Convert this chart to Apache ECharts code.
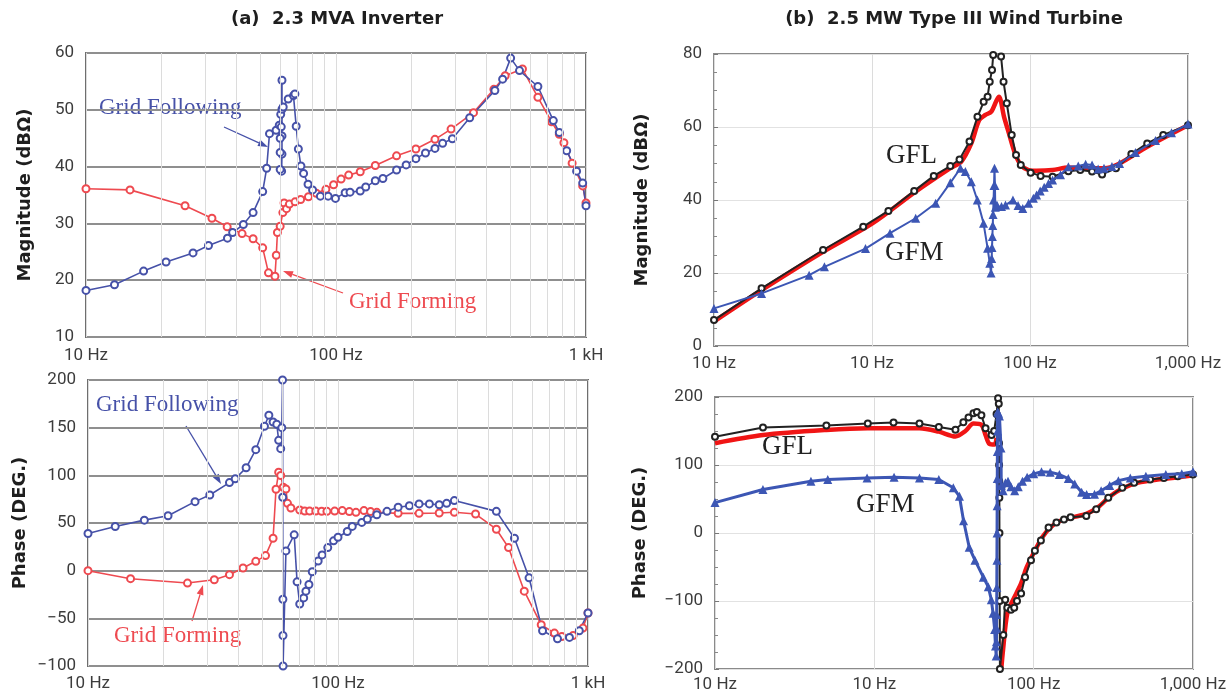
<!DOCTYPE html>
<html>
<head>
<meta charset="utf-8">
<title>Impedance scans: inverter and wind turbine</title>
<script src="https://cdn.jsdelivr.net/npm/echarts@6/dist/echarts.min.js"></script>
<style>
  html, body { margin: 0; padding: 0; background: #fff; }
  #chart { width: 1231px; height: 696px; }
</style>
</head>
<body>
<div id="chart"></div>
<script>
// ---- (a) 2.3 MVA inverter, [frequency Hz, value] ----
const invMagFollowing = [[10,18.2],[13,19.2],[17,21.6],[20.9,23.2],[26.8,24.8],[30.9,26.1],[36.8,27.4],[38.6,28.4],[42.6,29.8],[46.6,31.9],[50.9,35.6],[52.8,39.7],[54.2,45.8],[57.6,46.4],[59.3,47.3],[60.1,49.2],[60.8,55.2],[60.8,50.1],[60.8,45.4],[60.8,42.2],[60.6,39.2],[59.8,39.5],[59.8,42.5],[59.8,45],[60.4,47],[61.5,50.5],[64.4,51.9],[67.6,52.5],[68.5,52.8],[69.3,47.1],[70.7,43.1],[72.4,40.1],[74.2,38.8],[77.3,36.9],[80.6,35.9],[86.6,34.8],[93,34.8],[99.5,34.4],[108.8,35.4],[113.8,35.5],[125,35.7],[131.5,36.4],[143.6,37.5],[154,37.9],[174.7,39.4],[190.8,40.3],[208.7,41.4],[228,42.4],[248.8,43.2],[267,44.1],[292,44.9],[342.6,48.6],[432,53.4],[464,55.4],[499.6,59.1],[542,56.9],[642,54.1],[740,48.1],[782,46],[837,42.8],[917,39.2],[970,37.1],[1000,33.1]];
const invMagForming = [[10,36.1],[15,35.9],[24.9,33.1],[31.9,30.9],[36.7,29.4],[42.1,28.2],[46.6,27.3],[50.9,25.7],[53.7,21.3],[57,20.7],[57.7,24.4],[58.3,28.4],[59.8,29.5],[61.3,31.9],[62,33.6],[63.4,32.6],[65.1,33.4],[68.6,33.8],[72.2,34.2],[77.6,34.7],[83.4,35.3],[91.1,36],[97.8,36.8],[104.8,37.8],[112.4,38.5],[125,39.1],[143.6,40.2],[174.7,41.9],[208.7,43.1],[248.8,44.8],[288.6,46.6],[354.8,49.5],[428,53.6],[475,56],[557,57.2],[642,52.2],[728,47.9],[782,45.7],[816,44.2],[880,40.6],[970,36.6],[1000,33.6]];
const invPhaseFollowing = [[10,39],[12.85,46.3],[16.8,53],[20.9,57.6],[26.8,72.4],[30.7,79.4],[36.8,92.4],[38.8,96.3],[42.9,107.9],[46.9,126.9],[50.8,151.5],[52.9,163.1],[55,156],[56.9,153.6],[57.9,136.7],[59,128],[59.6,150],[60,200],[60.1,77],[60.2,-30],[60.25,-68],[60.3,-100],[61.9,20.7],[66.8,37.6],[68.6,-11.7],[70.3,-35],[72.9,-28.6],[74.4,-21.5],[76.5,-14.5],[78.9,-1.1],[83.3,10.1],[86.4,16.5],[91,24.2],[96,31.3],[100,35],[108.9,41.1],[114,46.4],[124.5,50.6],[131,54.1],[143,58.6],[157,62.2],[174,66.6],[193,68.1],[211,70],[232,70],[254,69.2],[272,70.6],[292,73.5],[430,62.2],[508,34],[581,-7.5],[658,-63],[755,-71.4],[843,-70],[923,-63],[1000,-44.4]];
const invPhaseForming = [[10,0],[14.8,-8.4],[25,-13],[32,-9.5],[36.8,-4.2],[41.7,2.8],[46.9,9.8],[51.3,15.8],[55,34],[56.5,85.4],[57.9,103.3],[59,99.8],[60.4,87.5],[61.9,85.7],[62.8,70.6],[64.8,65.7],[70.3,63.6],[73.6,62.5],[77,62.5],[81.5,62.5],[86,62.3],[90.3,62.2],[97,62.5],[104,63],[111,62],[118,61.2],[127,63],[135,62],[143,61.2],[174,60.1],[211,60.1],[254,60.5],[292,61.2],[355,59.4],[430,43.5],[481,24.2],[556,-21.5],[650,-56.7],[734,-65.5],[786,-69],[872,-68],[955,-60.2],[1000,-44.4]];

// ---- (b) 2.5 MW type III wind turbine ----
const wtMagGFL = [[1,7.1],[2,15.8],[4.9,26.3],[8.8,32.7],[12.7,37],[18.5,42.5],[24.6,46.6],[31.3,49.3],[35.8,51.1],[41.4,56],[46.5,62.8],[50.9,66.9],[53.9,68.3],[55.6,72.4],[57.5,75.6],[58.5,79.7],[60.5,88],[63.5,88],[65.6,79.3],[68,72.4],[71.3,66.5],[76.6,57.8],[81.6,52.3],[87.4,49.6],[101,47.5],[116.7,46.6],[139,46.4],[175,47.9],[208,48.2],[247,47.8],[286,47],[350,48.7],[438,52.6],[552,55.5],[697,57.8],[1000,60.5]];
const wtMagGFLsim = [[1,6.7],[2,15.3],[4.9,25.8],[10,33.5],[18.5,42],[31.3,48.7],[36.7,50.5],[42.5,55.5],[47.7,61.9],[52.2,63.3],[56.9,64.2],[63.5,68.3],[68.5,62.8],[73.5,58.3],[80.3,52.8],[87.4,49.6],[97.9,48.2],[109.8,48],[139,48.2],[175,48.9],[220,48.7],[294,48.7],[369,50],[552,54.6],[1000,60.5]];
const wtMagGFM = [[1,10.3],[2,14.4],[4,19.4],[5,21.7],[9.1,26.7],[13,30.9],[18.9,35],[25.3,39.1],[31.3,44.7],[36.3,48.7],[39,47.8],[42.5,45],[46.4,40],[50.8,33.6],[53.9,26.8],[55.6,22.7],[56.7,20],[57.2,24],[57.5,27],[57.8,30],[58.1,33],[58.4,36],[58.8,40],[59.2,44],[59.6,48.7],[60,44],[60.3,38],[62,38.5],[66,38.2],[70,38.6],[78,40],[84,38.5],[90,37.7],[98,39.1],[105,40.5],[110,41.4],[116,42.5],[123,43.5],[131,44.5],[139,45.5],[156,46.9],[175,49.1],[202,49.3],[225,49.8],[247,49.6],[270,48.5],[294,48.7],[330,49.2],[369,50],[465,53],[623,56.3],[786,58.4],[1000,60.8]];
const wtPhaseGFL = [[1,141.7],[2,155],[5,158],[9.1,161],[13.2,162.6],[19.2,161],[25.4,156],[32.3,152],[36.2,163],[39,170],[41.9,176],[44,178],[47,173],[49.9,154],[54.4,144],[56.5,150],[58.5,175],[59.8,198],[60.4,190],[60.6,132],[60.7,100],[60.8,76],[60.9,52],[61,0],[61.2,-100],[61.4,-200],[64.5,-150],[66.3,-98],[68.3,-110],[72,-113],[75.5,-110],[78.6,-100],[83.4,-89],[88.3,-65],[96.2,-40],[101.8,-26],[111,-11],[124,8],[139,15.5],[155,20],[170.5,23],[214,25],[247,35],[294,52],[360,66.5],[427,74],[538,78.6],[657,81],[803,83.5],[1000,86]];
const wtPhaseGFLsim = [[1,132],[2,144],[5,151.5],[9.1,154],[19.2,154],[25.4,149],[32.3,142],[37.3,150],[41.9,161],[47,159],[49.9,144],[52.8,131],[56.9,130],[58.5,140],[60,null],[62.6,-200],[64.3,-171],[68.3,-118],[74.2,-98.5],[83.4,-74],[90.6,-50],[101.8,-26],[113.5,-6],[127,8],[147,18],[175,23],[214,28],[254,38],[302,54],[360,65.5],[453,74],[600,78.6],[803,82],[1000,85]];
const wtPhaseGFM = [[1,44.7],[2,64],[4,76],[5.1,78.6],[9,81],[13.3,82],[19.2,81],[25.4,78.6],[31.3,66.5],[34.2,54],[36.3,18],[39.4,-21],[42.8,-40],[48.3,-65],[51.9,-79],[54.2,-98],[55.6,-118],[56.9,-142],[57.6,-166],[58.2,-181],[58.4,-160],[58.5,-140],[58.6,-120],[58.7,-80],[58.8,-40],[58.9,0],[59,40],[59.1,80],[59.2,120],[59.3,150],[59.4,178],[60.2,176],[61,172],[62.4,125],[62.6,70],[64.3,62],[66.5,74],[69,76],[72,68],[76,62],[80,68],[85,76],[91,82],[100,87],[112,90],[127,89.5],[145,86],[165,80],[181,72],[200,60],[215,56.5],[241,57],[265,62],[300,70],[340,77],[404,81],[506,83.5],[675,86],[850,87],[1000,90]];

// ---- axis labels ----
const invDecades = [10, 100, 1000];
const invDecadeLabels = ['10 Hz', '100 Hz', '1 kH'];
const wtDecades = [1, 10, 100, 1000];
const wtDecadeLabels = ['10 Hz', '10 Hz', '100 Hz', '1,000 Hz'];
const invMinorFreqs = [20, 30, 40, 50, 60, 70, 80, 90, 200, 300, 400, 500, 600, 700, 800, 900];

const BLUE_A = '#4651a8';
const RED_A = '#ee4a50';
const TICK_FONT = 'Roboto';
const NAME_FONT = '"DejaVu Sans"';

function decadeLabel(decades, labels) {
    return function (v) {
        for (let i = 0; i < decades.length; i++) {
            if (Math.abs(Math.log10(v) - Math.log10(decades[i])) < 1e-6) {
                return labels[i];
            }
        }
        return '';
    };
}

function minusLabel(v) {
    return v < 0 ? '\u2212' + Math.abs(v) : String(v);
}

function freqAxis(gridIndex, min, max, decades, labels, margin) {
    return {
        type: 'log', logBase: 10, gridIndex: gridIndex, min: min, max: max,
        axisLine: { show: false },
        axisTick: { show: false },
        axisLabel: {
            color: '#3c3c3c', fontSize: 17, fontFamily: TICK_FONT, margin: margin,
            formatter: decadeLabel(decades, labels)
        },
        splitLine: { show: true, lineStyle: { color: '#dcdcdc', width: 1 } }
    };
}

function valueAxis(gridIndex, min, max, interval, name, nameGap, heavyGrid) {
    return {
        type: 'value', gridIndex: gridIndex, min: min, max: max, interval: interval,
        name: name, nameLocation: 'middle', nameGap: nameGap, nameRotate: 90,
        nameTextStyle: { fontFamily: NAME_FONT, fontWeight: 'bold', fontSize: 18, color: '#1e1e1e' },
        axisLine: { show: false },
        axisTick: heavyGrid ? { show: false } : { show: true, inside: true, length: 4, lineStyle: { color: '#777' } },
        minorTick: { show: !heavyGrid, splitNumber: 4, length: 3, lineStyle: { color: '#888' } },
        axisLabel: { color: '#3c3c3c', fontSize: 17, fontFamily: TICK_FONT, margin: 12, formatter: minusLabel },
        splitLine: {
            show: true,
            lineStyle: heavyGrid ? { color: '#8f8f8f', width: 2 } : { color: '#e2e2e2', width: 1 }
        }
    };
}

function arrow(x1, y1, x2, y2, color) {
    const a = Math.atan2(y2 - y1, x2 - x1);
    const len = 10, half = 3.5;
    const bx = x2 - len * Math.cos(a), by = y2 - len * Math.sin(a);
    return [
        { type: 'line', shape: { x1: x1, y1: y1, x2: bx, y2: by }, style: { stroke: color, lineWidth: 1.3 } },
        { type: 'polygon', shape: { points: [[x2, y2], [bx + half * Math.sin(a), by - half * Math.cos(a)], [bx - half * Math.sin(a), by + half * Math.cos(a)]] }, style: { fill: color } }
    ];
}

function label(text, x, y, color, size, align) {
    return {
        type: 'text', x: x, y: y,
        style: { text: text, fill: color, font: size + 'px "Liberation Serif"', textAlign: align || 'left', textVerticalAlign: 'middle' }
    };
}

function circles(name, data, color, xi) {
    return {
        name: name, type: 'line', xAxisIndex: xi, yAxisIndex: xi, data: data, z: 3,
        symbol: 'emptyCircle', symbolSize: 7, color: color,
        lineStyle: { color: color, width: 1.6 },
        itemStyle: { color: color, borderColor: color, borderWidth: 1.4 }
    };
}

const chart = echarts.init(document.getElementById('chart'));

const graphic = [
    { type: 'text', x: 337, y: 19, style: { text: '(a)  2.3 MVA Inverter', font: 'bold 18px ' + NAME_FONT, fill: '#1e1e1e', textAlign: 'center', textVerticalAlign: 'middle' } },
    { type: 'text', x: 954, y: 19, style: { text: '(b)  2.5 MW Type III Wind Turbine', font: 'bold 18px ' + NAME_FONT, fill: '#1e1e1e', textAlign: 'center', textVerticalAlign: 'middle' } },
    label('Grid Following', 99, 108, BLUE_A, 23),
    label('Grid Forming', 349, 302, RED_A, 23),
    label('Grid Following', 96, 405, BLUE_A, 23),
    label('Grid Forming', 114, 636, RED_A, 23),
    label('GFL', 886, 156, '#222', 27),
    label('GFM', 885, 253, '#222', 27),
    label('GFL', 762, 447, '#222', 27),
    label('GFM', 856, 505, '#222', 27)
].concat(
    arrow(224, 127, 268, 147, BLUE_A),
    arrow(343, 293, 283, 271, RED_A),
    arrow(186, 426, 221, 484, BLUE_A),
    arrow(192, 621, 203, 585, RED_A)
);

const minorLines = function (xi) {
    return {
        type: 'line', xAxisIndex: xi, yAxisIndex: xi, data: [], z: 1, silent: true,
        markLine: {
            silent: true, symbol: ['none', 'none'], label: { show: false },
            lineStyle: { color: '#dcdcdc', width: 1, type: 'solid' },
            data: invMinorFreqs.map(function (f) { return { xAxis: f }; })
        }
    };
};

chart.setOption({
    backgroundColor: '#fff',
    animation: false,
    grid: [
        { left: 86, top: 53, width: 500, height: 284, show: true, borderColor: '#6e6e6e', borderWidth: 2 },
        { left: 88, top: 380, width: 500, height: 286, show: true, borderColor: '#6e6e6e', borderWidth: 2 },
        { left: 714, top: 54, width: 474, height: 292, show: true, borderColor: '#8a8a8a', borderWidth: 2 },
        { left: 715, top: 397, width: 478, height: 272, show: true, borderColor: '#8a8a8a', borderWidth: 2 }
    ],
    xAxis: [
        freqAxis(0, 10, 1000, invDecades, invDecadeLabels, 10),
        freqAxis(1, 10, 1000, invDecades, invDecadeLabels, 9),
        freqAxis(2, 1, 1000, wtDecades, wtDecadeLabels, 9),
        freqAxis(3, 1, 1000, wtDecades, wtDecadeLabels, 7)
    ],
    yAxis: [
        valueAxis(0, 10, 60, 10, 'Magnitude (dBΩ)', 52, true),
        valueAxis(1, -100, 200, 50, 'Phase (DEG.)', 59, true),
        valueAxis(2, 0, 80, 20, 'Magnitude (dBΩ)', 63, false),
        valueAxis(3, -200, 200, 100, 'Phase (DEG.)', 66, false)
    ],
    graphic: graphic,
    series: [
        minorLines(0),
        minorLines(1),
        circles('Grid Forming', invMagForming, RED_A, 0),
        circles('Grid Following', invMagFollowing, BLUE_A, 0),
        circles('Grid Forming', invPhaseForming, RED_A, 1),
        circles('Grid Following', invPhaseFollowing, BLUE_A, 1),

        { name: 'GFL (sim)', type: 'line', xAxisIndex: 2, yAxisIndex: 2, data: wtMagGFLsim, z: 2, showSymbol: false, smooth: 0.3,
          lineStyle: { color: '#f01515', width: 4.5 } },
        { name: 'GFL', type: 'line', xAxisIndex: 2, yAxisIndex: 2, data: wtMagGFL, z: 3, symbol: 'emptyCircle', symbolSize: 6,
          color: '#222', lineStyle: { color: '#222', width: 2 }, itemStyle: { borderColor: '#222', borderWidth: 1.2 } },
        { name: 'GFM', type: 'line', xAxisIndex: 2, yAxisIndex: 2, data: wtMagGFM, z: 4, symbol: 'triangle', symbolSize: 9,
          color: '#3c56b4', lineStyle: { color: '#3c56b4', width: 2 } },

        { name: 'GFL (sim)', type: 'line', xAxisIndex: 3, yAxisIndex: 3, data: wtPhaseGFLsim, z: 2, showSymbol: false, smooth: 0.3,
          lineStyle: { color: '#f01515', width: 4.5 } },
        { name: 'GFL', type: 'line', xAxisIndex: 3, yAxisIndex: 3, data: wtPhaseGFL, z: 3, symbol: 'emptyCircle', symbolSize: 6,
          color: '#222', lineStyle: { color: '#222', width: 2 }, itemStyle: { borderColor: '#222', borderWidth: 1.2 } },
        { name: 'GFM', type: 'line', xAxisIndex: 3, yAxisIndex: 3, data: wtPhaseGFM, z: 4, symbol: 'triangle', symbolSize: 9,
          color: '#3c56b4', lineStyle: { color: '#3c56b4', width: 3 } }
    ]
});
</script>
</body>
</html>
